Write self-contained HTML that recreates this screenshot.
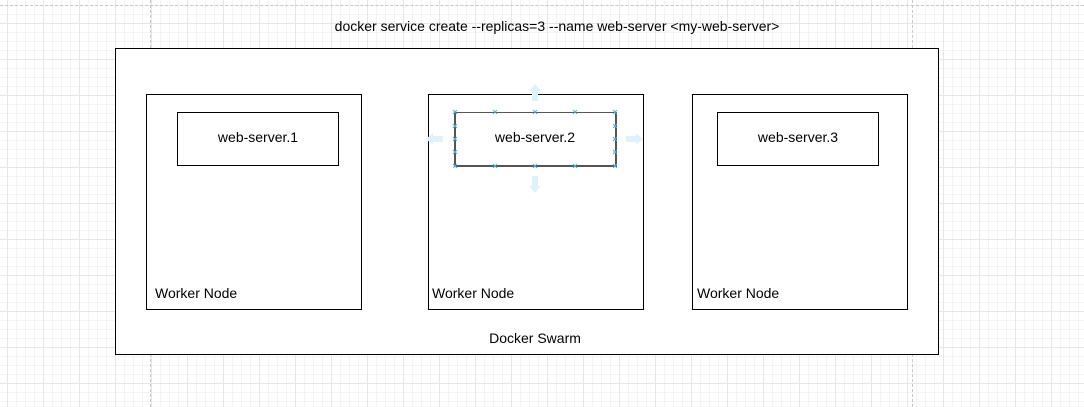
<!DOCTYPE html>
<html><head><meta charset="utf-8"><style>
html,body{margin:0;padding:0;}
body{width:1084px;height:407px;position:relative;overflow:hidden;background:#fff;
font-family:"Liberation Sans",sans-serif;font-size:14px;color:#000;
background-image:
linear-gradient(to right,#e6e6e6 1px,transparent 1px),
linear-gradient(to bottom,#e6e6e6 1px,transparent 1px),
linear-gradient(to right,#f4f4f4 1px,transparent 1px),
linear-gradient(to bottom,#f4f4f4 1px,transparent 1px);
background-size:36px 36px,36px 36px,9px 9px,9px 9px;
background-position:7px 23px,7px 23px,7px 5px,7px 5px;}
.b{position:absolute;border:1px solid #000;background:#fff;box-sizing:border-box;}
.t{position:absolute;white-space:nowrap;}
.dh{position:absolute;left:0;width:1084px;height:0;border-top:1px dashed #c8c8c8;}
.dv{position:absolute;top:0;height:407px;width:0;border-left:1px dashed #c8c8c8;}
</style></head><body>
<div class="dh" style="top:5px"></div>
<div class="dv" style="left:150px"></div>
<div class="dv" style="left:912px"></div>
<div class="t" style="left:0;width:1114px;text-align:center;top:18px">docker service create --replicas=3 --name web-server &lt;my-web-server&gt;</div>
<div class="b" style="left:115px;top:48px;width:824px;height:307px"></div>
<div class="t" style="left:115px;width:840px;text-align:center;top:330px">Docker Swarm</div>

<div class="b" style="left:146px;top:94px;width:216px;height:216px"></div>
<div class="t" style="left:155px;top:285px">Worker Node</div>
<div class="b" style="left:177px;top:112px;width:162px;height:54px"></div>
<div class="t" style="left:177px;width:162px;text-align:center;top:129px">web-server.1</div>

<div class="b" style="left:428px;top:94px;width:216px;height:216px"></div>
<div class="t" style="left:432px;top:285px">Worker Node</div>
<div class="b" style="left:454px;top:112px;width:163px;height:55px;border-color:#555;border-width:1px 2px 2px 2px;"></div>
<div class="t" style="left:454px;width:162px;text-align:center;top:129px">web-server.2</div>
<svg style="position:absolute;left:0;top:0" width="1084" height="407">
<g fill="#dff2fc">
<path d="M535 84 l6 7 h-3 v10 h-6 v-10 h-3z"/>
<path d="M535 193 l6 -7 h-3 v-10 h-6 v10 h-3z"/>
<path d="M426 139 l7 -6 v3 h10 v6 h-10 v3z"/>
<path d="M643 139 l-7 -6 v3 h-10 v6 h10 v3z"/>
</g>
<g stroke="#4ab4e6" stroke-width="1">
<path d="M453 110l4 4M457 110l-4 4 M493 110l4 4M497 110l-4 4 M533 110l4 4M537 110l-4 4 M573 110l4 4M577 110l-4 4 M613 110l4 4M617 110l-4 4
M453 164l4 4M457 164l-4 4 M493 164l4 4M497 164l-4 4 M533 164l4 4M537 164l-4 4 M573 164l4 4M577 164l-4 4 M613 164l4 4M617 164l-4 4
M453 124l4 4M457 124l-4 4 M453 137l4 4M457 137l-4 4 M453 150l4 4M457 150l-4 4
M613 124l4 4M617 124l-4 4 M613 137l4 4M617 137l-4 4 M613 150l4 4M617 150l-4 4"/>
</g>
</svg>

<div class="b" style="left:692px;top:94px;width:216px;height:216px"></div>
<div class="t" style="left:697px;top:285px">Worker Node</div>
<div class="b" style="left:717px;top:112px;width:162px;height:54px"></div>
<div class="t" style="left:717px;width:162px;text-align:center;top:129px">web-server.3</div>
</body></html>
